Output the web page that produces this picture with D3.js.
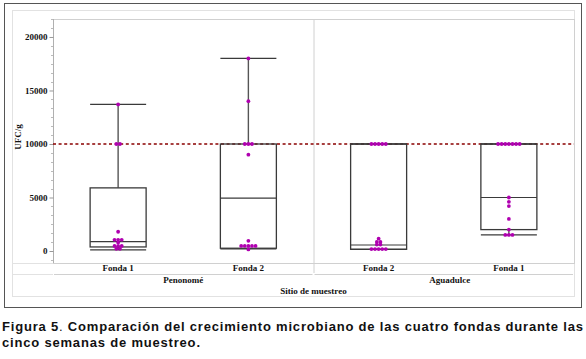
<!DOCTYPE html>
<html><head><meta charset="utf-8">
<script src="https://cdn.jsdelivr.net/npm/d3@7"></script>
<style>body{margin:0;background:#fff}svg{display:block}</style>
</head><body>
<script>
// ---- data ----
const sites = ["Penonomé", "Aguadulce"];
const categories = ["Fonda 1", "Fonda 2", "Fonda 2", "Fonda 1"];
const categorySite = ["Penonomé", "Penonomé", "Aguadulce", "Aguadulce"];
const whiskerLow  = [100, 200, 150, 1500];
const quartile1   = [380, 260, 160, 2000];
const medians     = [880, 4950, 560, 5000];
const quartile3   = [5900, 10000, 10000, 10000];
const whiskerHigh = [13700, 18000, 10000, 10000];
const points = [
  [13700, 10000, 10000, 1800, 1050, 1050, 1050, 800, 480, 480, 480, 200, 200],
  [18000, 14000, 10000, 10000, 10000, 9000, 950, 480, 480, 480, 480, 480, 150],
  [10000, 10000, 10000, 10000, 10000, 1150, 850, 850, 600, 600, 180, 180, 180, 180, 180],
  [10000, 10000, 10000, 10000, 10000, 10000, 10000, 5000, 4600, 4200, 3000, 2000, 1500, 1500, 1500]
];
const yTicks = [0, 5000, 10000, 15000, 20000];
const referenceValue = 10000;
const yTitle = "UFC/g";
const xTitle = "Sitio de muestreo";
const captionLine1 = ["Figura 5", ".", " Comparación del crecimiento microbiano de las cuatro fondas durante las"];
const captionLine2 = "cinco semanas de muestreo.";

// ---- layout ----
const W = 586, H = 359;
const plot = {l: 53, t: 19, r: 574, b: 263};
const svg = d3.select("body").append("svg").attr("width", W).attr("height", H);
const serif = "'Liberation Serif','Times New Roman',serif";

const y = d3.scaleLinear().domain([-1120, 21680]).range([plot.b, plot.t]);
const siteScale = d3.scaleBand().domain(sites).range([plot.l, plot.r]);
const x = d3.scaleBand().domain(d3.range(categories.length)).range([plot.l, plot.r]).paddingInner(0).paddingOuter(0);
const boxW = 56;
const cx = i => x(i) + x.bandwidth() / 2;

// frames
svg.append("rect").attr("x", 4.5).attr("y", 3.5).attr("width", 577).attr("height", 304)
  .attr("fill", "none").attr("stroke", "#555").attr("stroke-width", 1);
svg.append("rect").attr("x", 12.5).attr("y", 10.5).attr("width", 562).attr("height", 286)
  .attr("fill", "none").attr("stroke", "#e2e2e2").attr("stroke-width", 1);
svg.append("rect").attr("x", plot.l + 0.5).attr("y", plot.t + 0.5)
  .attr("width", plot.r - plot.l).attr("height", plot.b - plot.t)
  .attr("fill", "#fff").attr("stroke", "#d0d0d0");
svg.append("line").attr("x1", plot.l + 0.5).attr("x2", plot.l + 0.5).attr("y1", plot.t).attr("y2", plot.b)
  .attr("stroke", "#b0b0b0");
svg.append("line").attr("x1", siteScale("Aguadulce") + 0.5).attr("x2", siteScale("Aguadulce") + 0.5)
  .attr("y1", plot.t).attr("y2", 273).attr("stroke", "#d0d0d0");

// y axis
const yAxis = d3.axisLeft(y).tickValues(yTicks).tickSize(4).tickPadding(2).tickFormat(d3.format("d"));
const ga = svg.append("g").attr("transform", `translate(${plot.l + 0.5},0)`).call(yAxis);
ga.select(".domain").remove();
ga.selectAll(".tick line").attr("stroke", "#999");
ga.selectAll("text").attr("font-family", serif).attr("font-weight", "bold").attr("font-size", 9).attr("fill", "#111");
const minor = d3.range(-5000 / 6, 21680, 5000 / 6).filter(v => !yTicks.some(t => Math.abs(t - v) < 1));
svg.append("g").selectAll("line").data(minor).join("line")
  .attr("x1", plot.l - 2).attr("x2", plot.l)
  .attr("y1", d => Math.round(y(d)) + 0.5).attr("y2", d => Math.round(y(d)) + 0.5)
  .attr("stroke", "#bbb");

svg.append("text").attr("transform", `translate(21,${(plot.t + plot.b) / 2 - 4}) rotate(-90)`)
  .attr("text-anchor", "middle").attr("font-family", serif).attr("font-weight", "bold")
  .attr("font-size", 9).attr("fill", "#111").text(yTitle);

// reference line
svg.append("line").attr("x1", plot.l).attr("x2", plot.r)
  .attr("y1", y(referenceValue)).attr("y2", y(referenceValue))
  .attr("stroke", "#8b0000").attr("stroke-width", 1.6).attr("stroke-dasharray", "3,2.6");

// boxes
const g = svg.append("g");
categories.forEach((c, i) => {
  const xc = cx(i);
  const stroke = "#3a3a3a";
  g.append("line").attr("x1", xc).attr("x2", xc).attr("y1", y(quartile3[i])).attr("y2", y(whiskerHigh[i]))
    .attr("stroke", "#555").attr("stroke-width", 1.4);
  g.append("line").attr("x1", xc).attr("x2", xc).attr("y1", y(quartile1[i])).attr("y2", y(whiskerLow[i]))
    .attr("stroke", "#555").attr("stroke-width", 1.4);
  [whiskerHigh[i], whiskerLow[i]].forEach(v => {
    g.append("line").attr("x1", xc - boxW / 2).attr("x2", xc + boxW / 2).attr("y1", y(v)).attr("y2", y(v))
      .attr("stroke", stroke).attr("stroke-width", 1.3);
  });
  g.append("rect").attr("x", xc - boxW / 2).attr("y", y(quartile3[i]))
    .attr("width", boxW).attr("height", y(quartile1[i]) - y(quartile3[i]))
    .attr("fill", "none").attr("stroke", stroke).attr("stroke-width", 1.3);
  g.append("line").attr("x1", xc - boxW / 2).attr("x2", xc + boxW / 2).attr("y1", y(medians[i])).attr("y2", y(medians[i]))
    .attr("stroke", stroke).attr("stroke-width", 1.2);
});

// points (beeswarm rows by value)
points.forEach((arr, i) => {
  const groups = d3.groups(arr, v => v);
  groups.forEach(([v, vals]) => {
    const n = vals.length;
    vals.forEach((_, k) => {
      g.append("circle").attr("cx", cx(i) + (k - (n - 1) / 2) * 3.6).attr("cy", y(v))
        .attr("r", 1.9).attr("fill", "#b000b0");
    });
  });
});

// x axis labels
const lblY = 271;
categories.forEach((c, i) => {
  svg.append("text").attr("x", cx(i)).attr("y", lblY).attr("text-anchor", "middle")
    .attr("font-family", serif).attr("font-weight", "bold").attr("font-size", 9).attr("fill", "#111").text(c);
});
sites.forEach(s => {
  const x0 = siteScale(s), x1 = x0 + siteScale.bandwidth();
  svg.append("line").attr("x1", x0 + 1).attr("x2", x1 - 1).attr("y1", 274.5).attr("y2", 274.5).attr("stroke", "#d0d0d0");
  svg.append("text").attr("x", (x0 + x1) / 2 + (s === "Aguadulce" ? 6 : 0)).attr("y", 282.5).attr("text-anchor", "middle")
    .attr("font-family", serif).attr("font-weight", "bold").attr("font-size", 9).attr("fill", "#111").text(s);
});
svg.append("line").attr("x1", 12).attr("x2", plot.l).attr("y1", 263.5).attr("y2", 263.5).attr("stroke", "#e2e2e2");
svg.append("line").attr("x1", 12).attr("x2", plot.l).attr("y1", 274.5).attr("y2", 274.5).attr("stroke", "#e2e2e2");
svg.append("line").attr("x1", plot.r).attr("x2", 575).attr("y1", 274.5).attr("y2", 274.5).attr("stroke", "#e2e2e2");
svg.append("text").attr("x", (plot.l + plot.r) / 2).attr("y", 294).attr("text-anchor", "middle")
  .attr("font-family", serif).attr("font-weight", "bold").attr("font-size", 9).attr("fill", "#111").text(xTitle);

// caption
const cap = svg.append("text").attr("x", 2).attr("y", 331)
  .attr("font-family", "'Liberation Sans',Arial,sans-serif").attr("font-size", 13).attr("fill", "#111")
  .attr("textLength", 581).attr("lengthAdjust", "spacing");
captionLine1.forEach((t, k) => cap.append("tspan").attr("font-weight", k === 1 ? "normal" : "bold").text(t));
svg.append("text").attr("x", 2).attr("y", 347)
  .attr("font-family", "'Liberation Sans',Arial,sans-serif").attr("font-size", 13).attr("font-weight", "bold").attr("fill", "#111")
  .attr("textLength", 198).attr("lengthAdjust", "spacing").text(captionLine2);
</script>
</body></html>
